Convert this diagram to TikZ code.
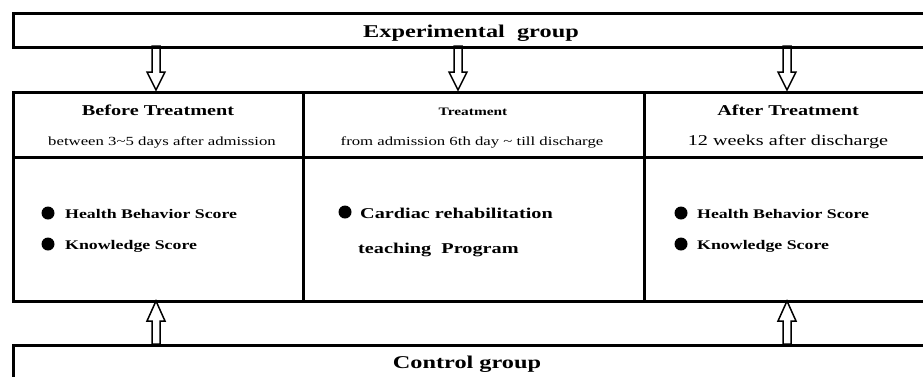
\documentclass[tikz,border=0pt]{standalone}
\usepackage{fontspec}
\setmainfont[FakeStretch=1.35]{Liberation Serif}
\usetikzlibrary{calc}
\newcommand{\fsz}[1]{\fontsize{#1}{#1}\selectfont}
\newcommand{\blkdown}[2]{\draw[barrow] ($(#1)+(-4,0)$) -- ($(#2)+(-4,-18)$) -- ($(#2)+(-9,-18)$) -- (#2) -- ($(#2)+(9,-18)$) -- ($(#2)+(4,-18)$) -- ($(#1)+(4,0)$) -- cycle;}
\newcommand{\blkup}[2]{\draw[barrow] ($(#1)+(-4,0)$) -- ($(#2)+(-4,20)$) -- ($(#2)+(-9,20)$) -- (#2) -- ($(#2)+(9,20)$) -- ($(#2)+(4,20)$) -- ($(#1)+(4,0)$) -- cycle;}
\begin{document}
\begin{tikzpicture}[x=1pt,y=-1pt,
  frame/.style={draw=black, line width=3pt, rectangle, inner sep=0pt, anchor=north west},
  barrow/.style={draw=black, line width=1.5pt, fill=white, line join=miter},
  dot/.style={circle, fill=black, inner sep=0pt, minimum size=13pt},
  lbl/.style={anchor=base, inner sep=0pt, text=black},
  item/.style={anchor=base west, inner sep=0pt, text=black}]
\useasboundingbox (0,0) rectangle (923,376);
\clip (0,0) rectangle (923,376);
\fill[white] (0,0) rectangle (923,376);
% arrow end points
\coordinate (d1s) at (156,46); \coordinate (d1e) at (156,90);
\coordinate (d2s) at (458,46); \coordinate (d2e) at (458,90);
\coordinate (d3s) at (787,46); \coordinate (d3e) at (787,90);
\coordinate (u1s) at (156,344); \coordinate (u1e) at (156,301);
\coordinate (u2s) at (787,344); \coordinate (u2e) at (787,301);
\blkdown{d1s}{d1e}
\blkdown{d2s}{d2e}
\blkdown{d3s}{d3e}
\blkup{u1s}{u1e}
\blkup{u2s}{u2e}
% boxes
\node[frame, minimum width=940pt, minimum height=34pt] (exp) at (12,12) {};
\node[frame, minimum width=290pt, minimum height=65pt] (h1) at (12,91) {};
\node[frame, minimum width=341pt, minimum height=65pt] (h2) at (302,91) {};
\node[frame, minimum width=320pt, minimum height=65pt] (h3) at (643,91) {};
\node[frame, minimum width=290pt, minimum height=144pt] (b1) at (12,156) {};
\node[frame, minimum width=341pt, minimum height=144pt] (b2) at (302,156) {};
\node[frame, minimum width=320pt, minimum height=144pt] (b3) at (643,156) {};
\node[frame, minimum width=940pt, minimum height=60pt] (ctl) at (12,344) {};
% titles
\node[lbl] (texp) at (471,37) {\fsz{18}\bfseries Experimental\ \ group};
\node[lbl] (tctl) at (467,368) {\fsz{18}\bfseries Control group};
\node[lbl] (t1) at (158,115) {\fsz{15}\bfseries Before Treatment};
\node[lbl] (s1) at (162,145) {\fsz{12.4}between 3\char`~5 days after admission};
\node[lbl] (t2) at (473,115) {\fsz{11.4}\bfseries Treatment};
\node[lbl] (s2) at (472,145) {\fsz{12.4}from admission 6th day \char`~\ till discharge};
\node[lbl] (t3) at (788,115) {\fsz{15}\bfseries After Treatment};
\node[lbl] (s3) at (788,145) {\fsz{15}12 weeks after discharge};
% items
\node[dot] (p1) at (48,213) {};
\node[dot] (p2) at (48,244) {};
\node[item] (i1) at (65,218) {\fsz{13.2}\bfseries Health Behavior Score};
\node[item] (i2) at (65,249) {\fsz{13.2}\bfseries Knowledge Score};
\node[dot] (p3) at (345,212) {};
\node[item] (i3) at (360,218) {\fsz{15}\bfseries Cardiac rehabilitation};
\node[item] (i4) at (358,253) {\fsz{15}\bfseries teaching\ \ Program};
\node[dot] (p4) at (681,213) {};
\node[dot] (p5) at (681,244) {};
\node[item] (i5) at (697,218) {\fsz{13.2}\bfseries Health Behavior Score};
\node[item] (i6) at (697,249) {\fsz{13.2}\bfseries Knowledge Score};
\end{tikzpicture}
\end{document}
